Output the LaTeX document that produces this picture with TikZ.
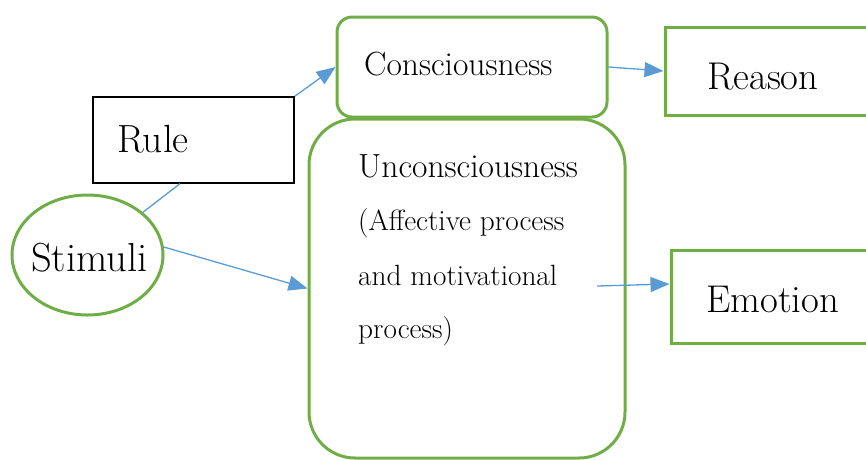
\documentclass[tikz,border=0pt]{standalone}
\usepackage{fontspec}
\usetikzlibrary{shapes.geometric,arrows.meta,calc}
\definecolor{boxgreen}{HTML}{70AD47}
\definecolor{arrowblue}{HTML}{5B9BD5}
\begin{document}
\begin{tikzpicture}[x=1pt,y=-1pt,
  greenbox/.style={draw=boxgreen,line width=3pt,rectangle,inner sep=0pt},
  label/.style={anchor=base west,inner sep=0pt},
  big/.style={font=\fontsize{38.7}{44}\selectfont},
  mid/.style={font=\fontsize{33.5}{40}\selectfont},
  small/.style={font=\fontsize{29.3}{35}\selectfont},
  conn/.style={draw=arrowblue,line width=1.3pt},
  arr/.style={conn,-{Triangle[length=19pt,width=15pt]}}]
\useasboundingbox (0,0) rectangle (866,459);
\clip (0,0) rectangle (866,459);
% boxes
\node[greenbox,ellipse,minimum width=151pt,minimum height=120pt] (stimuli) at (87.5,255) {};
\node[draw=black,line width=1.4pt,rectangle,inner sep=0pt,minimum width=201pt,minimum height=86pt] (rule) at (193.5,140) {};
\node[greenbox,rounded corners=15pt,minimum width=270pt,minimum height=100pt] (consc) at (472,67) {};
\node[greenbox,minimum width=240pt,minimum height=88pt] (reason) at (785,71) {};
\node[greenbox,rounded corners=46pt,minimum width=316pt,minimum height=339pt] (unc) at (467,288.5) {};
\node[greenbox,minimum width=234pt,minimum height=93pt] (emotion) at (788,296.5) {};
% texts
\node[label,font=\fontsize{40.5}{46}\selectfont] (tstim) at (31,271) {Stimuli};
\node[label,font=\fontsize{39.3}{46}\selectfont] (trule) at (117,152) {Rule};
\node[label,mid] (tconsc) at (364,75) {Consciousness};
\node[label,big] (treason) at (707,89) {Reason};
\node[label,mid] (tunc1) at (358,177) {Unconsciousness};
\node[label,small] (tunc2) at (358,230) {(Affective process};
\node[label,small] (tunc3) at (358,285) {and motivational};
\node[label,small] (tunc4) at (358,338) {process)};
\node[label,big] (temotion) at (706,312) {Emotion};
% connectors
\coordinate (rulefoot) at ($(rule.south west)!0.433!(rule.south east)$);
\draw[conn] (stimuli) -- (rulefoot);
\draw[arr] (rule.north east) -- (consc.west);
\draw[arr] (consc.east) -- (reason.west);
\draw[arr] (stimuli.6) -- (unc.west);
\coordinate (emostart) at (597,286);
\draw[arr] (emostart) -- ($(emotion.west)+(0,-12.5)$);
\end{tikzpicture}
\end{document}
